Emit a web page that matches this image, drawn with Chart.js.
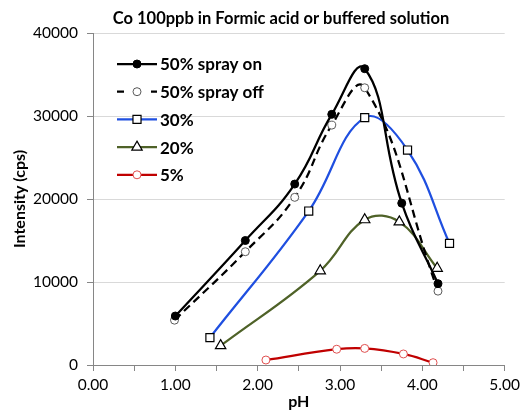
<!DOCTYPE html>
<html>
<head>
<meta charset="utf-8">
<script src="https://cdn.jsdelivr.net/npm/chart.js@4/dist/chart.umd.min.js"></script>
<style>
  html, body { margin: 0; padding: 0; background: #fff; }
  #wrap { width: 525px; height: 411px; position: relative; }
</style>
</head>
<body>
<div id="wrap"><canvas id="chart"></canvas></div>
<script>
const titleText = 'Co 100ppb in Formic acid or buffered solution';

// pH / intensity pairs per series
const sprayOnPH = [1.00, 1.85, 2.45, 2.90, 3.30, 3.75, 4.19];
const sprayOnCps = [5900, 15000, 21800, 30200, 35700, 19500, 9800];

const sprayOffPH = [0.99, 1.85, 2.45, 2.90, 3.30, 4.19];
const sprayOffCps = [5400, 13650, 20200, 28900, 33400, 8900];

const pct30PH = [1.42, 2.62, 3.30, 3.82, 4.33];
const pct30Cps = [3300, 18550, 29800, 25900, 14650];

const pct20PH = [1.55, 2.76, 3.30, 3.72, 4.18];
const pct20Cps = [2330, 11350, 17500, 17250, 11650];

const pct5PH = [2.10, 2.96, 3.30, 3.77, 4.13];
const pct5Cps = [600, 1900, 2000, 1330, 280];

const xTicks = [0, 1, 2, 3, 4, 5];
const yTicks = [0, 10000, 20000, 30000, 40000];

const pts = (xs, ys) => xs.map((x, i) => ({ x: x, y: ys[i] }));

const datasets = [
  {
    label: '50% spray on', data: pts(sprayOnPH, sprayOnCps),
    borderColor: '#000000', borderWidth: 2.25, tension: 0.45,
    pointStyle: 'circle', pointRadius: 4, pointBackgroundColor: '#000000', pointBorderColor: '#000000', pointBorderWidth: 1
  },
  {
    label: '50% spray off', data: pts(sprayOffPH, sprayOffCps),
    borderColor: '#000000', borderWidth: 2.25, borderDash: [8, 5], tension: 0.45,
    pointStyle: 'circle', pointRadius: 4, pointBackgroundColor: '#ffffff', pointBorderColor: '#595959', pointBorderWidth: 1
  },
  {
    label: '30%', data: pts(pct30PH, pct30Cps),
    borderColor: '#1f4fe0', borderWidth: 2.25, tension: 0.4,
    pointStyle: 'rect', pointRadius: 5.7, pointBackgroundColor: '#ffffff', pointBorderColor: '#000000', pointBorderWidth: 1.2
  },
  {
    label: '20%', data: pts(pct20PH, pct20Cps),
    borderColor: '#4f6228', borderWidth: 2.25, tension: 0.4,
    pointStyle: 'triangle', pointRadius: 6, pointBackgroundColor: '#ffffff', pointBorderColor: '#000000', pointBorderWidth: 1.2
  },
  {
    label: '5%', data: pts(pct5PH, pct5Cps),
    borderColor: '#c00000', borderWidth: 2.25, tension: 0.4,
    pointStyle: 'circle', pointRadius: 4, pointBackgroundColor: '#ffffff', pointBorderColor: '#e05050', pointBorderWidth: 1
  }
];

// title and in-plot legend drawn by hand (Excel-style: line with marker in the middle)
const decor = {
  id: 'decor',
  afterDraw(chart) {
    const ctx = chart.ctx;
    ctx.save();
    ctx.fillStyle = '#000';
    ctx.font = 'bold 16.5px Lato';
    ctx.textAlign = 'center';
    ctx.textBaseline = 'middle';
    ctx.fillText(titleText, 281, 19);

    ctx.textAlign = 'left';
    chart.data.datasets.forEach((ds, i) => {
      const y = 64 + i * 27.7;
      ctx.save();
      ctx.strokeStyle = ds.borderColor;
      ctx.lineWidth = ds.borderWidth;
      ctx.setLineDash(ds.borderDash ? [7, 10] : []);
      ctx.beginPath();
      ctx.moveTo(117, y);
      ctx.lineTo(157, y);
      ctx.stroke();
      ctx.restore();
      ctx.save();
      ctx.fillStyle = ds.pointBackgroundColor;
      ctx.strokeStyle = ds.pointBorderColor;
      ctx.lineWidth = ds.pointBorderWidth;
      Chart.helpers.drawPoint(ctx, { pointStyle: ds.pointStyle, radius: ds.pointRadius, borderWidth: ds.pointBorderWidth, rotation: 0 }, 137, y);
      ctx.restore();
      ctx.fillStyle = '#000';
      ctx.font = 'bold 17px Lato';
      ctx.fillText(ds.label, 160, y + 1);
    });
    ctx.restore();
  }
};

new Chart(document.getElementById('chart'), {
  type: 'line',
  data: { datasets: datasets },
  plugins: [decor],
  options: {
    responsive: true,
    maintainAspectRatio: false,
    animation: false,
    layout: { padding: { top: 33, right: 16, left: 0, bottom: 0 } },
    plugins: {
      legend: { display: false },
      tooltip: { enabled: false }
    },
    scales: {
      x: {
        type: 'linear', min: 0, max: 5,
        afterBuildTicks: s => {
          const t = [];
          for (let v = 0; v <= 10; v++) t.push({ value: v / 2 });
          s.ticks = t;
        },
        afterFit: s => { s.height = 46; },
        border: { color: '#868686', width: 1 },
        grid: { drawOnChartArea: false, tickLength: 6, tickColor: '#868686' },
        ticks: {
          autoSkip: false, maxRotation: 0, padding: 5, color: '#000',
          font: { family: 'Lato', size: 15.5 },
          callback: v => xTicks.includes(v) ? v.toFixed(2) : ''
        },
        title: { display: true, text: 'pH', color: '#000', font: { family: 'Lato', size: 16, weight: 'bold' }, padding: { top: 0, bottom: 0 } }
      },
      y: {
        min: 0, max: 40000,
        afterBuildTicks: s => { s.ticks = yTicks.map(v => ({ value: v })); },
        afterFit: s => { s.width = 93; },
        border: { color: '#868686', width: 1 },
        grid: { color: '#d9d9d9', tickLength: 6, tickColor: '#868686' },
        ticks: { padding: 9, color: '#000', font: { family: 'Lato', size: 15.5 }, callback: v => String(v) },
        title: { display: true, text: 'Intensity (cps)', color: '#000', font: { family: 'Lato', size: 16, weight: 'bold' }, padding: { top: 10, bottom: 0 } }
      }
    }
  }
});
</script>
</body>
</html>
